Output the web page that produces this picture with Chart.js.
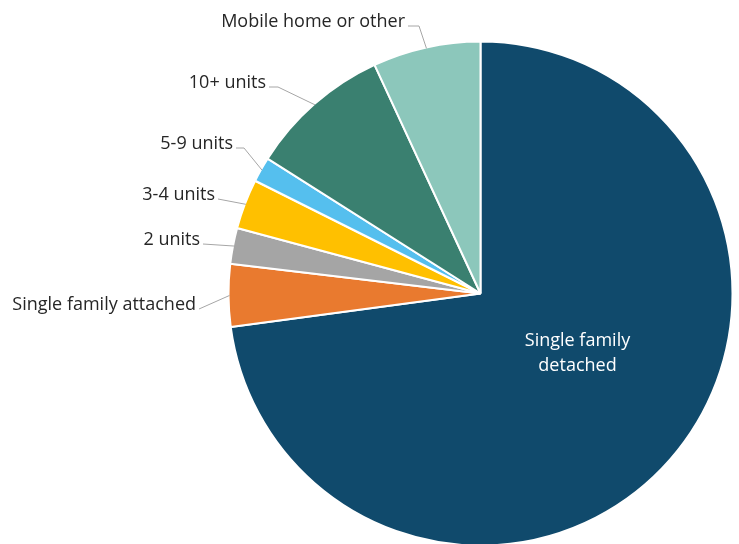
<!DOCTYPE html>
<html>
<head>
<meta charset="utf-8">
<script src="https://cdn.jsdelivr.net/npm/chart.js@4/dist/chart.umd.min.js"></script>
<style>
  html, body { margin: 0; padding: 0; background: #ffffff; overflow: hidden; width: 739px; height: 544px; }
  #wrap { position: relative; width: 739px; height: 560px; }
</style>
</head>
<body>
<div id="wrap"><canvas id="c" width="739" height="560"></canvas></div>
<script>
// Housing units by structure type (share of all units, %)
const categories = [
  'Single family detached',
  'Single family attached',
  '2 units',
  '3-4 units',
  '5-9 units',
  '10+ units',
  'Mobile home or other'
];
const shares = [72.8, 4.0, 2.3, 3.2, 1.6, 9.1, 6.9];
const labelLines = [
  ['Single family', 'detached'],
  ['Single family attached'],
  ['2 units'],
  ['3-4 units'],
  ['5-9 units'],
  ['10+ units'],
  ['Mobile home or other']
];

const sliceColors = ['#104a6c', '#e97a2f', '#a5a5a5', '#ffc000', '#55bfee', '#3a8070', '#8cc7bb'];

// Where each outside label sits: right end of text (x), baseline (y), horizontal elbow length
const outsideLabelLayout = {
  1: { x: 196, y: 310, elbow: 0 },
  2: { x: 200, y: 245, elbow: 0 },
  3: { x: 215, y: 200, elbow: 0 },
  4: { x: 233, y: 149, elbow: 8 },
  5: { x: 266, y: 88, elbow: 9 },
  6: { x: 405, y: 27, elbow: 11 }
};
// Inside label for the big slice: offset from pie centre
const insideLabelLayout = { dx: 97, dy: 52, lineGap: 25 };

const FONT = '18px "Open Sans", "Noto Sans", sans-serif';

const labelPlugin = {
  id: 'sliceLabels',
  afterDatasetsDraw(chart) {
    const ctx = chart.ctx;
    const arcs = chart.getDatasetMeta(0).data;
    ctx.save();
    ctx.font = FONT;
    arcs.forEach((arc, i) => {
      const p = arc.getProps(['x', 'y', 'startAngle', 'endAngle', 'outerRadius'], true);
      if (i === 0) {
        ctx.fillStyle = '#ffffff';
        ctx.textAlign = 'center';
        ctx.textBaseline = 'alphabetic';
        labelLines[0].forEach((line, k) => {
          ctx.fillText(line, p.x + insideLabelLayout.dx, p.y + insideLabelLayout.dy + k * insideLabelLayout.lineGap);
        });
        return;
      }
      const lay = outsideLabelLayout[i];
      const mid = (p.startAngle + p.endAngle) / 2;
      const ex = p.x + Math.cos(mid) * (p.outerRadius - 1);
      const ey = p.y + Math.sin(mid) * (p.outerRadius - 1);
      const sx = lay.x + 3;
      const sy = lay.y - 1;
      ctx.strokeStyle = '#a6a6a6';
      ctx.lineWidth = 1;
      ctx.beginPath();
      ctx.moveTo(sx, sy);
      if (lay.elbow) ctx.lineTo(sx + lay.elbow, sy);
      ctx.lineTo(ex, ey);
      ctx.stroke();
      ctx.fillStyle = '#262626';
      ctx.textAlign = 'right';
      ctx.textBaseline = 'alphabetic';
      ctx.fillText(labelLines[i][0], lay.x, lay.y);
    });
    ctx.restore();
  }
};

new Chart(document.getElementById('c'), {
  type: 'pie',
  data: {
    labels: categories,
    datasets: [{
      data: shares,
      backgroundColor: sliceColors,
      borderColor: '#ffffff',
      borderWidth: 2
    }]
  },
  options: {
    responsive: false,
    animation: false,
    devicePixelRatio: 1,
    layout: { padding: { left: 227.5, top: 40.5, right: 5.5, bottom: 13.5 } },
    plugins: {
      legend: { display: false },
      tooltip: { enabled: false }
    }
  },
  plugins: [labelPlugin]
});
</script>
</body>
</html>
